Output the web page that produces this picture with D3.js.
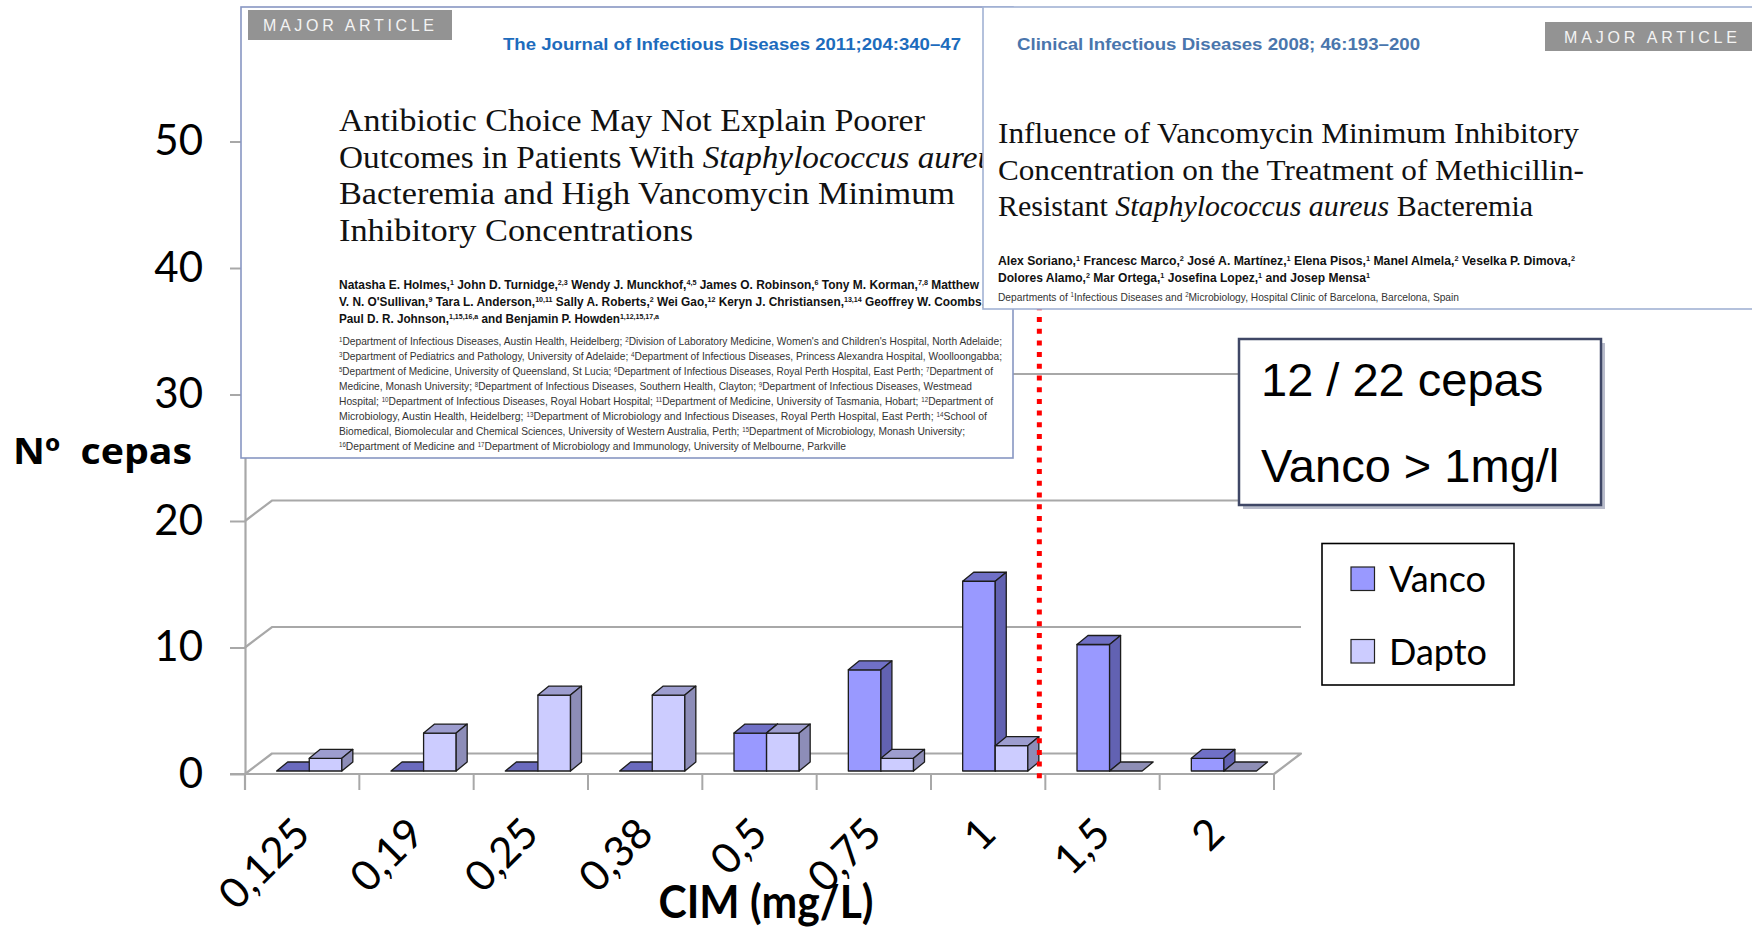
<!DOCTYPE html>
<html>
<head>
<meta charset="utf-8">
<script src="https://cdn.jsdelivr.net/npm/d3@7"></script>
<style>
  html, body { margin: 0; padding: 0; background: #ffffff; }
  svg { display: block; }
</style>
</head>
<body>
<svg id="chart" width="1752" height="929"></svg>
<script>
// ---- data -------------------------------------------------------------
const categories   = ["0,125", "0,19", "0,25", "0,38", "0,5", "0,75", "1", "1,5", "2"];
const vancoValues  = [0, 0, 0, 0, 3, 8, 15, 10, 1];
const daptoValues  = [1, 3, 6, 6, 3, 1, 2, 0, 0];
const seriesNames  = ["Vanco", "Dapto"];
const yTickValues  = [0, 10, 20, 30, 40, 50];
const breakpointCategory = "1,5";          // dotted line: CIM > 1 mg/l
const annotationLines = ["12 / 22 cepas", "Vanco > 1mg/l"];
const yAxisTitle = "Nº  cepas";
const xAxisTitle = "CIM (mg/L)";

// ---- article excerpts shown over the chart ----------------------------
const leftJournal = "The Journal of Infectious Diseases 2011;204:340–47";
const leftTitle = [
  "Antibiotic Choice May Not Explain Poorer",
  "Outcomes in Patients With _{Staphylococcus aureus}",
  "Bacteremia and High Vancomycin Minimum",
  "Inhibitory Concentrations"
];
const leftAuthors = [
  "Natasha E. Holmes,^{1} John D. Turnidge,^{2,3} Wendy J. Munckhof,^{4,5} James O. Robinson,^{6} Tony M. Korman,^{7,8} Matthew",
  "V. N. O'Sullivan,^{9} Tara L. Anderson,^{10,11} Sally A. Roberts,^{2} Wei Gao,^{12} Keryn J. Christiansen,^{13,14} Geoffrey W. Coombs,",
  "Paul D. R. Johnson,^{1,15,16,a} and Benjamin P. Howden^{1,12,15,17,a}"
];
const leftAffiliations = [
  "^{1}Department of Infectious Diseases, Austin Health, Heidelberg; ^{2}Division of Laboratory Medicine, Women's and Children's Hospital, North Adelaide;",
  "^{3}Department of Pediatrics and Pathology, University of Adelaide; ^{4}Department of Infectious Diseases, Princess Alexandra Hospital, Woolloongabba;",
  "^{5}Department of Medicine, University of Queensland, St Lucia; ^{6}Department of Infectious Diseases, Royal Perth Hospital, East Perth; ^{7}Department of",
  "Medicine, Monash University; ^{8}Department of Infectious Diseases, Southern Health, Clayton; ^{9}Department of Infectious Diseases, Westmead",
  "Hospital; ^{10}Department of Infectious Diseases, Royal Hobart Hospital; ^{11}Department of Medicine, University of Tasmania, Hobart; ^{12}Department of",
  "Microbiology, Austin Health, Heidelberg; ^{13}Department of Microbiology and Infectious Diseases, Royal Perth Hospital, East Perth; ^{14}School of",
  "Biomedical, Biomolecular and Chemical Sciences, University of Western Australia, Perth; ^{15}Department of Microbiology, Monash University;",
  "^{16}Department of Medicine and ^{17}Department of Microbiology and Immunology, University of Melbourne, Parkville"
];
const leftAffiliationWidths = [663, 663, 654, 633, 654, 648, 626, 507];

const rightJournal = "Clinical Infectious Diseases 2008; 46:193–200";
const rightTitle = [
  "Influence of Vancomycin Minimum Inhibitory",
  "Concentration on the Treatment of Methicillin-",
  "Resistant _{Staphylococcus aureus} Bacteremia"
];
const rightAuthors = [
  "Alex Soriano,^{1} Francesc Marco,^{2} José A. Martínez,^{1} Elena Pisos,^{1} Manel Almela,^{2} Veselka P. Dimova,^{2}",
  "Dolores Alamo,^{2} Mar Ortega,^{1} Josefina Lopez,^{1} and Josep Mensa^{1}"
];
const rightDept = "Departments of ^{1}Infectious Diseases and ^{2}Microbiology, Hospital Clinic of Barcelona, Barcelona, Spain";

// ---- setup ------------------------------------------------------------
const svg = d3.select("#chart");
const chartFont = "Lato, 'Open Sans', sans-serif";
const serif = "'Liberation Serif', 'DejaVu Serif', serif";
const sans = "'Liberation Sans', Arial, sans-serif";
const narrow = "'Liberation Sans Narrow', 'Arial Narrow', 'Liberation Sans', sans-serif";

const x = d3.scaleBand().domain(categories).range([245, 1274]).padding(0);
const y = d3.scaleLinear().domain([0, 50]).range([774, 141.5]);
const bw = x.bandwidth();
const wall = { dx: 27, dy: -20.5 };   // depth of floor / back wall
const depth = { dx: 11, dy: -9 };     // depth of each bar
const backRight = 1301;
const barBase = y(0) - 3;

// two bars per category, placed inside the band
const sub = d3.scaleBand().domain(seriesNames).range([0.277 * bw, 0.847 * bw]).padding(0);
const seriesValues = { Vanco: vancoValues, Dapto: daptoValues };
const palette = {
  Vanco: { front: "#9999ff", top: "#7070c6", side: "#6262b2", flat: "#6a6abd" },
  Dapto: { front: "#ccccff", top: "#9d9dcf", side: "#8d8db8", flat: "#8e8eb6" }
};

// ---- floor and gridlines ----------------------------------------------
const gridColor = "#a8a8a8";
const gGrid = svg.append("g");
gGrid.append("polygon")
  .attr("points", [[245, y(0)], [245 + wall.dx, y(0) + wall.dy],
                   [backRight, y(0) + wall.dy], [1274, y(0)]].join(" "))
  .attr("fill", "#ffffff").attr("stroke", gridColor).attr("stroke-width", 2.2)
  .attr("stroke-linejoin", "round");
gGrid.selectAll("polyline.grid")
  .data(yTickValues.filter(v => v > 0))
  .join("polyline").attr("class", "grid")
  .attr("points", v => [[245, y(v)], [245 + wall.dx, y(v) + wall.dy], [backRight, y(v) + wall.dy]].join(" "))
  .attr("fill", "none").attr("stroke", gridColor).attr("stroke-width", 2.2);

// ---- y axis -----------------------------------------------------------
const yAxis = svg.append("g").attr("transform", "translate(245,0)")
  .call(d3.axisLeft(y).tickValues(yTickValues).tickSize(15).tickSizeOuter(0).tickPadding(27));
yAxis.select(".domain").attr("stroke", gridColor).attr("stroke-width", 2.2);
yAxis.selectAll(".tick line").attr("stroke", gridColor).attr("stroke-width", 2);
yAxis.selectAll(".tick text").attr("font-family", chartFont).attr("font-size", 42).attr("fill", "#000");
svg.append("line").attr("x1", 245).attr("x2", 245).attr("y1", y(0)).attr("y2", 790)
  .attr("stroke", gridColor).attr("stroke-width", 2.2);

// ---- x axis: boundary ticks + rotated labels ---------------------------
const boundaries = categories.map(c => x(c)).concat([x(categories[categories.length - 1]) + bw]);
svg.append("g").selectAll("line").data(boundaries).join("line")
  .attr("x1", d => d).attr("x2", d => d).attr("y1", y(0)).attr("y2", 790)
  .attr("stroke", gridColor).attr("stroke-width", 2);
svg.append("line").attr("x1", 230).attr("x2", 1274).attr("y1", y(0)).attr("y2", y(0))
  .attr("stroke", gridColor).attr("stroke-width", 2.2);

const xAxis = svg.append("g").attr("transform", `translate(0,${y(0)})`)
  .call(d3.axisBottom(x).tickSize(0));
xAxis.select(".domain").remove();
xAxis.selectAll(".tick text")
  .attr("x", 0).attr("y", 0).attr("dy", 0)
  .attr("transform", "translate(10,62) rotate(-45)")
  .attr("text-anchor", "end")
  .attr("font-family", chartFont).attr("font-size", 42).attr("fill", "#000");

// ---- 3D bars ------------------------------------------------------------
const gBars = svg.append("g").attr("stroke", "#1c1c1c").attr("stroke-width", 1.3)
  .attr("stroke-linejoin", "round");
categories.forEach((c, i) => {
  seriesNames.forEach(s => {
    const v = seriesValues[s][i];
    const col = palette[s];
    const x0 = x(c) + sub(s), w = sub.bandwidth();
    const top = barBase - (y(0) - y(v));
    const topFace = [[x0, top], [x0 + w, top], [x0 + w + depth.dx, top + depth.dy], [x0 + depth.dx, top + depth.dy]];
    if (v === 0) {
      gBars.append("polygon").attr("points", topFace.join(" ")).attr("fill", col.flat);
      return;
    }
    gBars.append("rect").attr("x", x0).attr("y", top).attr("width", w).attr("height", barBase - top)
      .attr("fill", col.front);
    gBars.append("polygon").attr("points", topFace.join(" ")).attr("fill", col.top);
    gBars.append("polygon")
      .attr("points", [[x0 + w, top], [x0 + w + depth.dx, top + depth.dy],
                       [x0 + w + depth.dx, barBase + depth.dy], [x0 + w, barBase]].join(" "))
      .attr("fill", col.side);
  });
});

// ---- breakpoint line ----------------------------------------------------
svg.append("line")
  .attr("x1", x(breakpointCategory) - 6).attr("x2", x(breakpointCategory) - 6)
  .attr("y1", 200).attr("y2", 779)
  .attr("stroke", "#ff0000").attr("stroke-width", 5).attr("stroke-dasharray", "5,6.7");

// ---- axis titles --------------------------------------------------------
svg.append("text").attr("x", 13).attr("y", 464).text(yAxisTitle)
  .attr("font-family", "'Open Sans', Lato, sans-serif").attr("font-weight", 700).attr("font-size", 36)
  .attr("textLength", 179).attr("lengthAdjust", "spacingAndGlyphs").attr("xml:space", "preserve");
svg.append("text").attr("x", 766).attr("y", 918).attr("text-anchor", "middle").text(xAxisTitle)
  .attr("font-family", chartFont).attr("font-weight", 700).attr("font-size", 46)
  .attr("textLength", 215).attr("lengthAdjust", "spacingAndGlyphs");

// ---- helper: text with superscripts ^{..} and italics _{..} ------------
function richText(g, str, opt) {
  const t = g.append("text").attr("x", opt.x).attr("y", opt.y)
    .attr("font-family", opt.family).attr("font-size", opt.size)
    .attr("fill", opt.fill || "#111");
  if (opt.weight) t.attr("font-weight", opt.weight);
  if (opt.length) t.attr("textLength", opt.length).attr("lengthAdjust", "spacingAndGlyphs");
  const rise = opt.size * 0.32;
  let raised = false;
  str.split(/(\^\{[^}]*\}|_\{[^}]*\})/).forEach(part => {
    if (!part) return;
    if (part.startsWith("^{")) {
      t.append("tspan").attr("font-size", opt.size * 0.6).attr("dy", raised ? 0 : -rise)
        .text(part.slice(2, -1));
      raised = true;
    } else {
      const sp = t.append("tspan").attr("dy", raised ? rise : 0);
      if (part.startsWith("_{")) sp.attr("font-style", "italic").text(part.slice(2, -1));
      else sp.text(part);
      raised = false;
    }
  });
  return t;
}

function badge(g, bx, by, bwid, bh, tx, ty, tlen) {
  g.append("rect").attr("x", bx).attr("y", by).attr("width", bwid).attr("height", bh).attr("fill", "#939393");
  g.append("text").attr("x", tx).attr("y", ty).text("MAJOR ARTICLE")
    .attr("font-family", sans).attr("font-size", 16).attr("fill", "#f4f4f4")
    .attr("textLength", tlen).attr("lengthAdjust", "spacing");
}

// ---- left article excerpt ----------------------------------------------
svg.append("clipPath").attr("id", "leftClip")
  .append("rect").attr("x", 241).attr("y", 7).attr("width", 772).attr("height", 451);
const leftPaper = svg.append("g");
leftPaper.append("rect").attr("x", 241).attr("y", 7).attr("width", 772).attr("height", 451)
  .attr("fill", "#ffffff");
const leftBody = leftPaper.append("g").attr("clip-path", "url(#leftClip)");
badge(leftBody, 248, 10, 204, 30, 263, 31, 171);
richText(leftBody, leftJournal, { x: 503, y: 50, family: sans, size: 17, weight: 700, fill: "#1d6cbd", length: 458 });
const leftTitleLens = [586, 668, 616, 354];
leftTitle.forEach((l, k) => richText(leftBody, l, { x: 339, y: 131 + k * 36.7, family: serif, size: 32, length: leftTitleLens[k] }));
const leftAuthorLens = [640, 646, 320];
leftAuthors.forEach((l, k) => richText(leftBody, l, { x: 339, y: 289 + k * 17, family: narrow, size: 13, weight: 700, length: leftAuthorLens[k] }));
leftAffiliations.forEach((l, k) => richText(leftBody, l, { x: 339, y: 345 + k * 15, family: narrow, size: 10.5, fill: "#333", length: leftAffiliationWidths[k] }));
leftPaper.append("rect").attr("x", 241).attr("y", 7).attr("width", 772).attr("height", 451)
  .attr("fill", "none").attr("stroke", "#8896c2").attr("stroke-width", 1.6);

// ---- right article excerpt ---------------------------------------------
const rightPaper = svg.append("g");
rightPaper.append("rect").attr("x", 983).attr("y", 7).attr("width", 800).attr("height", 302)
  .attr("fill", "#ffffff").attr("stroke", "#a2b2d4").attr("stroke-width", 1.6);
richText(rightPaper, rightJournal, { x: 1017, y: 50, family: sans, size: 17, weight: 700, fill: "#4a76ad", length: 403 });
badge(rightPaper, 1545, 22, 210, 29, 1564, 43, 173);
const rightTitleLens = [581, 586, 535];
rightTitle.forEach((l, k) => richText(rightPaper, l, { x: 998, y: 143 + k * 36.5, family: serif, size: 30, length: rightTitleLens[k] }));
const rightAuthorLens = [577, 372];
rightAuthors.forEach((l, k) => richText(rightPaper, l, { x: 998, y: 265 + k * 16.5, family: narrow, size: 12.5, weight: 700, length: rightAuthorLens[k] }));
richText(rightPaper, rightDept, { x: 998, y: 300.5, family: narrow, size: 10.5, fill: "#333", length: 461 });

// ---- annotation box ----------------------------------------------------
const note = svg.append("g");
note.append("rect").attr("x", 1243).attr("y", 343).attr("width", 362).attr("height", 166).attr("fill", "#b9bccb");
note.append("rect").attr("x", 1239).attr("y", 339).attr("width", 362).attr("height", 166)
  .attr("fill", "#ffffff").attr("stroke", "#3f4766").attr("stroke-width", 2.5);
note.selectAll("text").data(annotationLines).join("text")
  .attr("x", 1261).attr("y", (d, k) => 396 + k * 86)
  .attr("font-family", sans).attr("font-size", 47).attr("fill", "#000")
  .text(d => d);

// ---- legend ------------------------------------------------------------
const legend = svg.append("g");
legend.append("rect").attr("x", 1322).attr("y", 543.5).attr("width", 192).attr("height", 141.5)
  .attr("fill", "#ffffff").attr("stroke", "#000").attr("stroke-width", 1.6);
const li = legend.selectAll("g.item").data(seriesNames).join("g").attr("class", "item")
  .attr("transform", (d, k) => `translate(0,${k * 72.5})`);
li.append("rect").attr("x", 1351).attr("y", 567).attr("width", 23.5).attr("height", 23.5)
  .attr("fill", d => palette[d].front).attr("stroke", "#222").attr("stroke-width", 1.2);
li.append("text").attr("x", 1389).attr("y", 592).text(d => d)
  .attr("font-family", chartFont).attr("font-size", 36).attr("fill", "#000");
</script>
</body>
</html>
